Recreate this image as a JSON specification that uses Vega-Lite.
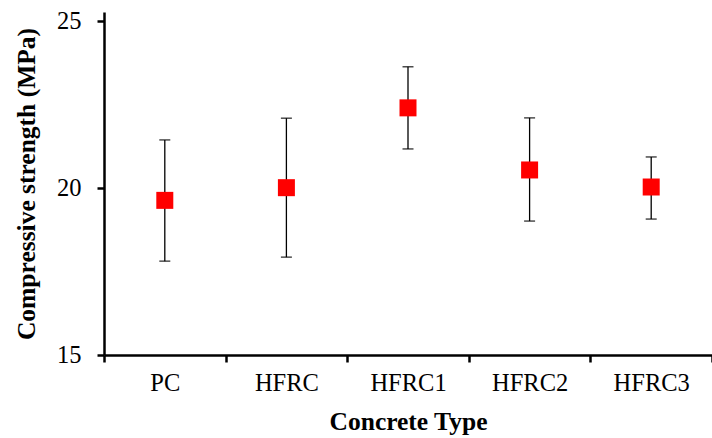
{
  "$schema": "https://vega.github.io/schema/vega-lite/v6.json",
  "width": 608,
  "height": 343,
  "autosize": "none",
  "padding": {"left": 104, "top": 12, "right": 0, "bottom": 83},
  "background": "white",
  "config": {
    "view": {"stroke": null},
    "font": "Liberation Serif",
    "axis": {
      "labelFont": "Liberation Serif",
      "titleFont": "Liberation Serif",
      "labelColor": "black",
      "titleColor": "black",
      "domainColor": "black",
      "tickColor": "black",
      "domainWidth": 2.5,
      "tickWidth": 2.5,
      "tickSize": 7,
      "grid": false,
      "labelFontSize": 24.5,
      "titleFontSize": 25.5,
      "titleFontWeight": "bold"
    }
  },
  "data": {
    "values": [
      {"type": "PC", "mean": 19.63, "lo": 17.81, "hi": 21.44},
      {"type": "HFRC", "mean": 20.01, "lo": 17.93, "hi": 22.09},
      {"type": "HFRC1", "mean": 22.4, "lo": 21.17, "hi": 23.63},
      {"type": "HFRC2", "mean": 20.54, "lo": 19.01, "hi": 22.1},
      {"type": "HFRC3", "mean": 20.03, "lo": 19.07, "hi": 20.93}
    ]
  },
  "encoding": {
    "x": {
      "field": "type",
      "type": "nominal",
      "sort": null,
      "title": "Concrete Type",
      "scale": {"paddingInner": 0, "paddingOuter": 0},
      "axis": {"labelAngle": 0, "labelPadding": 9, "titlePadding": 15, "tickBand": "extent"}
    }
  },
  "layer": [
    {
      "mark": {"type": "rule", "color": "black", "strokeWidth": 1.3},
      "encoding": {
        "y": {
          "field": "lo",
          "type": "quantitative",
          "scale": {"domain": [15, 25.27], "nice": false},
          "title": "Compressive strength (MPa)",
          "axis": {"values": [15, 20, 25], "labelPadding": 16, "titlePadding": 17}
        },
        "y2": {"field": "hi"}
      }
    },
    {
      "mark": {"type": "tick", "color": "black", "thickness": 1.5, "size": 11},
      "encoding": {"y": {"field": "lo", "type": "quantitative"}}
    },
    {
      "mark": {"type": "tick", "color": "black", "thickness": 1.5, "size": 11},
      "encoding": {"y": {"field": "hi", "type": "quantitative"}}
    },
    {
      "mark": {"type": "square", "color": "#ff0000", "opacity": 1, "filled": true, "size": 289},
      "encoding": {"y": {"field": "mean", "type": "quantitative"}}
    }
  ]
}
